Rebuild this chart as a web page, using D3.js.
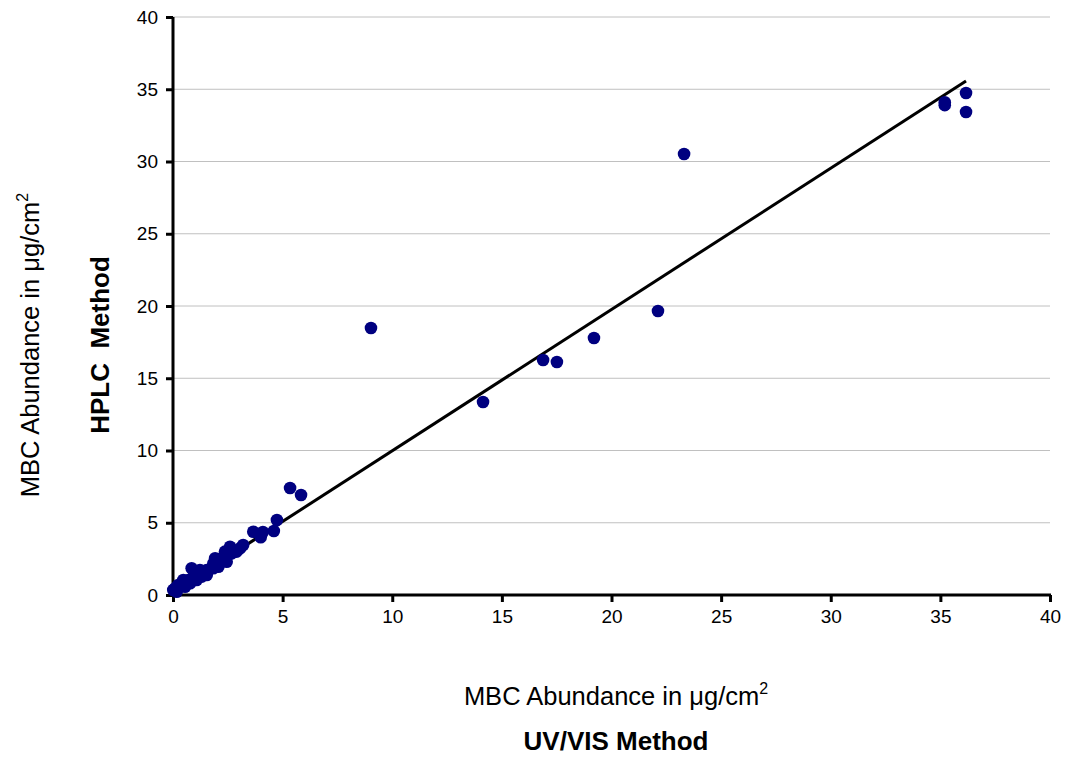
<!DOCTYPE html>
<html>
<head>
<meta charset="utf-8">
<script src="https://cdn.jsdelivr.net/npm/d3@7"></script>
<style>
  body { margin: 0; background: #fff; }
  svg { display: block; font-family: "Liberation Sans", Arial, sans-serif; }
</style>
</head>
<body>
<svg id="chart" width="1066" height="758"></svg>
<script>
// MBC abundance, UV/VIS method (x) vs HPLC method (y), ug/cm2
var uvVis = [0.01, 0.17, 0.09, 0.24, 0.40, 0.47, 0.55, 0.70, 0.78, 0.85, 0.93, 1.08, 1.08, 1.23, 1.31,
             1.54, 1.54, 1.84, 1.84, 1.92, 2.07, 2.22, 2.37, 2.45, 2.45, 2.60, 2.68, 2.90, 3.06, 3.20,
             3.66, 4.00, 4.10, 4.60, 4.74, 5.34, 5.84, 9.03, 14.14, 16.88, 17.51, 19.20, 22.12, 23.31,
             35.20, 35.20, 36.17, 36.17];
var hplc  = [0.35, 0.23, 0.46, 0.69, 0.81, 1.04, 0.57, 1.04, 0.81, 1.85, 1.27, 1.50, 1.04, 1.73, 1.27,
             1.73, 1.38, 2.19, 1.85, 2.54, 1.96, 2.54, 3.00, 2.65, 2.30, 3.34, 2.88, 3.00, 3.23, 3.46,
             4.38, 4.00, 4.36, 4.43, 5.19, 7.40, 6.92, 18.48, 13.36, 16.26, 16.12, 17.79, 19.65, 30.52,
             34.10, 33.90, 34.74, 33.43];

// linear trendline
var trendSlope = 0.978;
var trendIntercept = 0.2;

var xTicks = [0, 5, 10, 15, 20, 25, 30, 35, 40];
var yTicks = [0, 5, 10, 15, 20, 25, 30, 35, 40];

(function(){
    var svg = d3.select("#chart");
    var left = 173, right = 1050, plotTop = 17, bottom = 595;

    var x = d3.scaleLinear().domain([0, 40]).range([left, right]);
    var y = d3.scaleLinear().domain([0, 40]).range([bottom, plotTop]);

    //horizontal gridlines
    svg.append("g")
        .selectAll("line")
        .data(yTicks.filter(function(d){ return d > 0; }))
        .enter()
        .append("line")
        .attr("x1", left)
        .attr("x2", right)
        .attr("y1", function(d){ return y(d); })
        .attr("y2", function(d){ return y(d); })
        .attr("stroke", "#c0c0c0")
        .attr("stroke-width", 1);

    //axes
    var xAxis = svg.append("g")
        .attr("transform", "translate(0," + bottom + ")")
        .call(d3.axisBottom(x).tickValues(xTicks).tickSize(7).tickPadding(8));
    var yAxis = svg.append("g")
        .attr("transform", "translate(" + left + ",0)")
        .call(d3.axisLeft(y).tickValues(yTicks).tickSize(7).tickPadding(8));

    [xAxis, yAxis].forEach(function(ax){
        ax.attr("font-size", null).attr("font-family", null);
        ax.select(".domain").attr("stroke", "#000").attr("stroke-width", 3);
        ax.selectAll(".tick line").attr("stroke", "#000").attr("stroke-width", 3);
        ax.selectAll(".tick text")
            .attr("fill", "#000")
            .style("font-size", "19px");
    });
    xAxis.select(".domain").attr("d", "M" + left + ",0H" + (right + 1));
    yAxis.select(".domain").attr("d", "M0," + (bottom + 1) + "V" + plotTop);

    //trendline across data range
    var xMin = d3.min(uvVis), xMax = d3.max(uvVis);
    svg.append("line")
        .attr("x1", x(xMin))
        .attr("y1", y(trendSlope * xMin + trendIntercept))
        .attr("x2", x(xMax))
        .attr("y2", y(trendSlope * xMax + trendIntercept))
        .attr("stroke", "#000")
        .attr("stroke-width", 3);

    //points
    svg.append("g")
        .selectAll("circle")
        .data(uvVis)
        .enter()
        .append("circle")
        .attr("cx", function(d){ return x(d); })
        .attr("cy", function(d, i){ return y(hplc[i]); })
        .attr("r", 6.3)
        .attr("fill", "#000080");

    //axis titles
    var xt = svg.append("text")
        .attr("x", 616)
        .attr("y", 705)
        .attr("text-anchor", "middle")
        .style("font-size", "25.5px");
    xt.append("tspan").text("MBC Abundance in \u03bcg/cm");
    xt.append("tspan").attr("dy", -11).style("font-size", "16px").text("2");

    svg.append("text")
        .attr("x", 616)
        .attr("y", 750)
        .attr("text-anchor", "middle")
        .style("font-size", "26px")
        .style("font-weight", "bold")
        .text("UV/VIS Method");

    var yt = svg.append("text")
        .attr("transform", "translate(39,345) rotate(-90)")
        .attr("text-anchor", "middle")
        .style("font-size", "25.5px");
    yt.append("tspan").text("MBC Abundance in \u03bcg/cm");
    yt.append("tspan").attr("dy", -11).style("font-size", "16px").text("2");

    svg.append("text")
        .attr("transform", "translate(109,345) rotate(-90)")
        .attr("text-anchor", "middle")
        .style("font-size", "26px")
        .style("font-weight", "bold")
        .style("white-space", "pre")
        .text("HPLC  Method");
})();
</script>
</body>
</html>
